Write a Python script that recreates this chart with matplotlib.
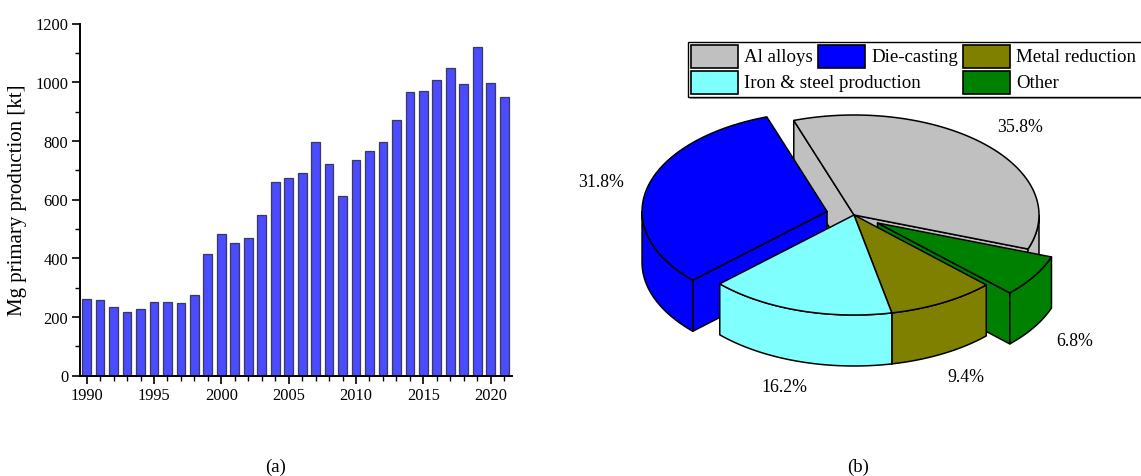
import numpy as np
import matplotlib
matplotlib.use("Agg")
import matplotlib.pyplot as plt
from matplotlib.patches import Polygon, Rectangle

plt.rcParams['font.family'] = ['Liberation Serif', 'DejaVu Serif']

# ---- data -------------------------------------------------------------
years = list(range(1990, 2022))
production_kt = [262, 257, 233, 217, 228, 250, 252, 248, 276, 413,
                 482, 452, 469, 547, 658, 672, 692, 795, 720, 612,
                 735, 765, 795, 872, 967, 969, 1008, 1050, 993, 1120,
                 998, 948]

# pie slices, listed clockwise from the start angle
uses = ["Al alloys", "Other", "Metal reduction", "Iron & steel production", "Die-casting"]
shares = [35.8, 6.8, 9.4, 16.2, 31.8]
pie_colors = ["#c0c0c0", "#008000", "#808000", "#80ffff", "#0000ff"]
explode = [0.0, 0.15, 0.0, 0.0, 0.15]

legend_order = ["Al alloys", "Die-casting", "Metal reduction", "Iron & steel production", "Other"]

W, H = 1141, 477
fig = plt.figure(figsize=(W / 100, H / 100), dpi=100)

# ---- (a) bar chart ----------------------------------------------------
ax = fig.add_axes([79.5 / W, 1 - 376.5 / H, (511.7 - 79.5) / W, (376.5 - 24.5) / H])
ax.bar(years, production_kt, width=0.65, color="#4b4bff", edgecolor="#3a3a5a", linewidth=0.9)
ax.set_xlim(1989.47, 2021.56)
ax.set_ylim(0, 1200)
ax.set_xticks(range(1990, 2021, 5))
ax.set_xticks(range(1990, 2022), minor=True)
ax.set_yticks(range(0, 1201, 200))
ax.set_yticks(range(0, 1201, 100), minor=True)
for s in ("top", "right"):
    ax.spines[s].set_visible(False)
for s in ("left", "bottom"):
    ax.spines[s].set_linewidth(1.4)
ax.tick_params(which="major", direction="out", length=6, width=1.2, labelsize=11.8, pad=2)
ax.tick_params(which="minor", direction="out", length=3.5, width=1.0)
ax.set_ylabel("Mg primary production [kt]", fontsize=15, labelpad=6)

# ---- overlay in pixel coordinates for the pie, legend and captions ----
ov = fig.add_axes([0, 0, 1, 1])
ov.set_xlim(0, W)
ov.set_ylim(H, 0)
ov.axis("off")
ov.patch.set_alpha(0)

cx, cy, ra, rb, depth = 854, 216, 185, 100, 51
start = 109.0


def pt(t, dx=0.0, dy=0.0, down=0.0):
    r = np.radians(t)
    return cx + dx + ra * np.cos(r), cy + dy - rb * np.sin(r) + down


bounds = start - 3.6 * np.concatenate([[0], np.cumsum(shares)])
slices = []
for i in range(len(shares)):
    t1, t2 = bounds[i], bounds[i + 1]
    mid = 0.5 * (t1 + t2)
    m = np.radians(mid)
    dx = explode[i] * ra * np.cos(m)
    dy = -explode[i] * rb * np.sin(m)
    slices.append((np.sin(m), i, t1, t2, mid, dx, dy))

# paint slices from back to front
for sm, i, t1, t2, mid, dx, dy in sorted(slices, key=lambda s: -s[0]):
    col = pie_colors[i]
    kw = dict(facecolor=col, edgecolor="black", linewidth=1.1, joinstyle="round")
    apex = (cx + dx, cy + dy)
    # radial side walls
    for t, vis in ((t1, np.cos(np.radians(t1)) < 0), (t2, np.cos(np.radians(t2)) > 0)):
        if vis:
            p = pt(t, dx, dy)
            ov.add_patch(Polygon([apex, p, (p[0], p[1] + depth), (apex[0], apex[1] + depth)], **kw))
    # outer curved wall, front-facing part only
    th = np.linspace(t2, t1, 400)
    front = np.sin(np.radians(th)) <= 0
    idx = np.flatnonzero(front)
    if idx.size:
        runs = np.split(idx, np.flatnonzero(np.diff(idx) > 1) + 1)
        for run in runs:
            tt = th[run]
            top = [pt(t, dx, dy) for t in tt]
            bot = [pt(t, dx, dy, depth) for t in tt[::-1]]
            ov.add_patch(Polygon(top + bot, **kw))
    # top face
    th = np.linspace(t1, t2, 300)
    ov.add_patch(Polygon([apex] + [pt(t, dx, dy) for t in th], **kw))

# percentage labels
for sm, i, t1, t2, mid, dx, dy in slices:
    r = 1.26 + explode[i]
    m = np.radians(mid)
    lx = cx + r * ra * np.cos(m)
    ly = cy - r * rb * np.sin(m) + (depth if np.sin(m) < 0 else 0)
    ov.text(lx, ly, f"{shares[i]:.1f}%", ha="center", va="center", fontsize=12.8)

# legend box
ov.add_patch(Rectangle((690, 45), 460, 55, facecolor="#9a9a9a", edgecolor="none", zorder=5))
ov.add_patch(Rectangle((688, 43), 460, 55, facecolor="white", edgecolor="black", linewidth=1.0, zorder=6))
col_x = [691, 818, 963]
row_y = [46, 72]
slots = [(0, 0), (0, 1), (0, 2), (1, 0), (1, 2)]
for name, (r, c) in zip(legend_order, slots):
    color = pie_colors[uses.index(name)]
    ov.add_patch(Rectangle((col_x[c], row_y[r]), 47, 23, facecolor=color, edgecolor="black",
                           linewidth=1.2, zorder=7))
    ov.text(col_x[c] + 53, row_y[r] + 12, name, ha="left", va="center", fontsize=13.6, zorder=8)

# panel captions
ov.text(276, 467, "(a)", ha="center", va="center", fontsize=13.5)
ov.text(858, 467, "(b)", ha="center", va="center", fontsize=13.5)

fig.savefig("out.png", dpi=100)
